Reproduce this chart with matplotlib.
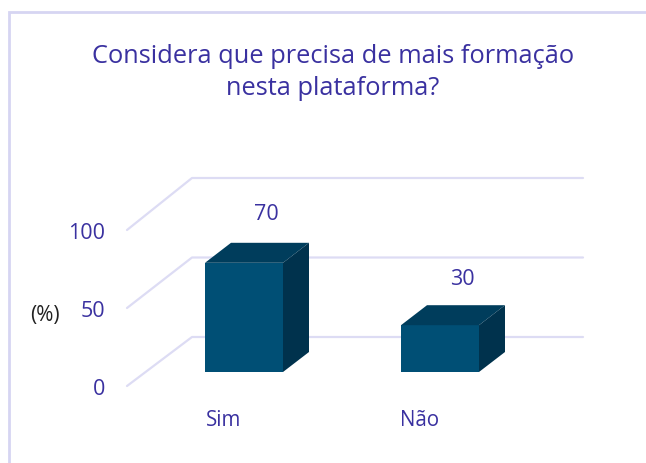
import matplotlib
matplotlib.use('Agg')
import matplotlib.pyplot as plt
from matplotlib.patches import Rectangle

categories = ['Sim', 'Não']
values = [70, 30]
y_ticks = [0, 50, 100]
label_gap = [31, 29]
title = 'Considera que precisa de mais formação\nnesta plataforma?'
y_label = '(%)'

TEXT = '#3a31a0'
GRID = '#dddcf4'
FRONT = '#004f75'
TOP = '#003d5c'
SIDE = '#00324d'

W, H = 646, 463
PX_PER_UNIT = 1.56
FLOOR_Y = 386  # pixel row of value 0 at the front of the floor


def yv(px):
    # pixel row to value
    return (FLOOR_Y - px) / PX_PER_UNIT


plt.rcParams['font.family'] = ['Open Sans', 'DejaVu Sans']

fig = plt.figure(figsize=(W / 100, H / 100), dpi=100)
ax = fig.add_axes([0, 0, 1, 1])
ax.set_xlim(0, W)
ax.set_ylim(yv(H), yv(0))
ax.axis('off')

# outer frame
ax.add_patch(Rectangle((9, yv(470)), 700, yv(12) - yv(470), fill=False, ec='#d6d5f2', lw=2))

# gridlines with the slanted wall part
for t in y_ticks:
    back = t * 1.59 / PX_PER_UNIT + 49 / PX_PER_UNIT
    ax.plot([127, 192, 583], [t, back, back], color=GRID, lw=1.6, solid_capstyle='round', zorder=1)
    ax.text(105, t - 2, str(t), color=TEXT, fontsize=15.5, ha='right', va='center')

ax.text(45, yv(315), y_label, color='#222222', fontsize=15, ha='center', va='center')

# bars
bar_w = 78
dx, dy = 26, 20 / PX_PER_UNIT
base = yv(372)
for i, (cat, val) in enumerate(zip(categories, values)):
    x0 = 205 + 196 * i
    x1 = x0 + bar_w
    top = base + val
    ax.fill([x0, x1, x1, x0], [base, base, top, top], color=FRONT, lw=0, zorder=3)
    ax.fill([x0, x1, x1 + dx, x0 + dx], [top, top, top + dy, top + dy], color=TOP, lw=0, zorder=3)
    ax.fill([x1, x1 + dx, x1 + dx, x1], [base, base + dy, top + dy, top], color=SIDE, lw=0, zorder=3)
    ax.text(x0 + 61, top + label_gap[i], str(val), color=TEXT, fontsize=15.5, ha='center', va='center')
    ax.text(x0 + 19, yv(421), cat, color=TEXT, fontsize=14.8, ha='center', va='center')

ax.text(333, yv(72.5), title, color=TEXT, fontsize=18.3, ha='center', va='center', linespacing=1.38)

fig.savefig('out.png', dpi=100)
